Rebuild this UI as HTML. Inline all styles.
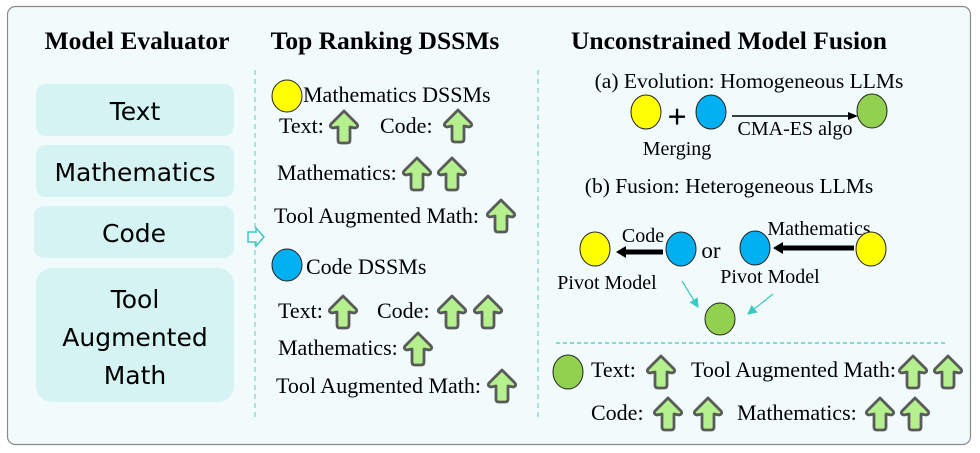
<!DOCTYPE html>
<html><head><meta charset="utf-8"><style>
html,body{margin:0;padding:0;background:#fff;}
svg{display:block;}
text{font-family:"Liberation Serif",serif;fill:#000;}
.s{font-family:"DejaVu Sans","Liberation Sans",sans-serif;}
</style></head><body>
<svg width="980" height="453" viewBox="0 0 980 453" xmlns="http://www.w3.org/2000/svg">
<defs>
<g id="up"><path d="M0,-15 L13,-2 Q15,1 11,2 L6,1 L6,14 Q6,17 3,17 L-3,17 Q-6,17 -6,14 L-6,1 L-11,2 Q-15,1 -13,-2 Z" fill="#b5f08f" stroke="#5a5a5a" stroke-width="2.8" stroke-linejoin="round"/></g>
<marker id="tl" markerWidth="8" markerHeight="8" refX="7" refY="4" orient="auto"><path d="M0,0 L8,4 L0,8 Z" fill="#3cc8c4"/></marker>
</defs>
<rect x="7.5" y="6.5" width="963" height="438" rx="8" fill="#f2fbfb" stroke="#8a8a8a" stroke-width="1.2"/>
<!-- titles -->
<text x="137" y="49" font-size="25.5" font-weight="bold" text-anchor="middle">Model Evaluator</text>
<text x="385" y="49" font-size="25.5" font-weight="bold" text-anchor="middle">Top Ranking DSSMs</text>
<text x="729" y="49" font-size="25.5" font-weight="bold" text-anchor="middle">Unconstrained Model Fusion</text>
<!-- left boxes -->
<g fill="#d5f3f2">
<rect x="36" y="84" width="198" height="52" rx="10"/>
<rect x="36" y="145" width="198" height="52" rx="10"/>
<rect x="34" y="206" width="200" height="52" rx="10"/>
<rect x="36" y="268" width="198" height="134" rx="16"/>
</g>
<g font-size="25" text-anchor="middle">
<text class="s" x="135" y="120">Text</text>
<text class="s" x="135" y="181">Mathematics</text>
<text class="s" x="134" y="242">Code</text>
<text class="s" x="135" y="308">Tool</text>
<text class="s" x="135" y="346">Augmented</text>
<text class="s" x="135" y="384">Math</text>
</g>
<!-- dashed lines -->
<line x1="255" y1="70" x2="255" y2="420" stroke="#8fd9d6" stroke-width="1.5" stroke-dasharray="5,4"/>
<line x1="538" y1="70" x2="538" y2="420" stroke="#8fd9d6" stroke-width="1.5" stroke-dasharray="5,4"/>
<line x1="556" y1="343" x2="946" y2="343" stroke="#3cc8c4" stroke-width="1.2" stroke-dasharray="4,3"/>
<path d="M248,232 L256,232 L256,228 L264,237 L256,246 L256,242 L248,242 Z" fill="#f2fbfb" stroke="#3cc8c4" stroke-width="1.5"/>
<!-- middle column -->
<ellipse cx="287" cy="96" rx="15" ry="16" fill="#ffff00" stroke="#222" stroke-width="1"/>
<text x="303" y="102" font-size="22">Mathematics DSSMs</text>
<text x="279" y="133" font-size="22">Text:</text><use href="#up" x="344" y="126"/>
<text x="380" y="133" font-size="22">Code:</text><use href="#up" x="458" y="125"/>
<text x="277" y="180" font-size="22">Mathematics:</text><use href="#up" x="417" y="173"/><use href="#up" x="452" y="173"/>
<text x="274" y="223" font-size="22">Tool Augmented Math:</text><use href="#up" x="501" y="215"/>
<ellipse cx="287" cy="265" rx="15" ry="16" fill="#00b0f0" stroke="#222" stroke-width="1"/>
<text x="306" y="274" font-size="22">Code DSSMs</text>
<text x="278" y="318" font-size="22">Text:</text><use href="#up" x="343" y="311"/>
<text x="377" y="318" font-size="22">Code:</text><use href="#up" x="452" y="311"/><use href="#up" x="488" y="311"/>
<text x="278" y="355" font-size="22">Mathematics:</text><use href="#up" x="418" y="348"/>
<text x="276" y="393" font-size="22">Tool Augmented Math:</text><use href="#up" x="502" y="385"/>
<!-- right (a) -->
<text x="749" y="88" font-size="21.5" text-anchor="middle">(a) Evolution: Homogeneous LLMs</text>
<ellipse cx="646" cy="112" rx="15" ry="17" fill="#ffff00" stroke="#222" stroke-width="1"/>
<text x="677" y="128" font-size="34" font-weight="bold" text-anchor="middle" font-family="Liberation Sans,sans-serif">+</text>
<ellipse cx="711" cy="112" rx="15" ry="17" fill="#00b0f0" stroke="#222" stroke-width="1"/>
<line x1="732" y1="116" x2="850" y2="116" stroke="#000" stroke-width="1.5"/>
<path d="M858,116 L848,112 L848,120 Z" fill="#000"/>
<ellipse cx="872" cy="111" rx="15" ry="17" fill="#92d050" stroke="#222" stroke-width="1"/>
<text x="677" y="155" font-size="20" text-anchor="middle">Merging</text>
<text x="795" y="135" font-size="20" text-anchor="middle">CMA-ES algo</text>
<!-- (b) -->
<text x="729" y="193" font-size="21.5" text-anchor="middle">(b) Fusion: Heterogeneous LLMs</text>
<ellipse cx="595" cy="249" rx="15" ry="17" fill="#ffff00" stroke="#222" stroke-width="1"/>
<line x1="624" y1="252" x2="663" y2="252" stroke="#000" stroke-width="5"/>
<path d="M616,252 L626,246 L626,258 Z" fill="#000"/>
<text x="643" y="242" font-size="20" text-anchor="middle">Code</text>
<ellipse cx="681" cy="249" rx="15" ry="17" fill="#00b0f0" stroke="#222" stroke-width="1"/>
<text x="711" y="258" font-size="23" text-anchor="middle">or</text>
<ellipse cx="755" cy="248" rx="15" ry="17" fill="#00b0f0" stroke="#222" stroke-width="1"/>
<line x1="780" y1="248" x2="854" y2="248" stroke="#000" stroke-width="5"/>
<path d="M773,248 L783,242 L783,254 Z" fill="#000"/>
<text x="819" y="235" font-size="20" text-anchor="middle">Mathematics</text>
<ellipse cx="871" cy="249" rx="15" ry="17" fill="#ffff00" stroke="#222" stroke-width="1"/>
<text x="607" y="289" font-size="20" text-anchor="middle">Pivot Model</text>
<text x="770" y="283" font-size="20" text-anchor="middle">Pivot Model</text>
<line x1="682" y1="281" x2="698" y2="307" stroke="#3cc8c4" stroke-width="1.2" marker-end="url(#tl)"/>
<line x1="773" y1="294" x2="748" y2="314" stroke="#3cc8c4" stroke-width="1.2" marker-end="url(#tl)"/>
<ellipse cx="720" cy="319" rx="15" ry="16" fill="#92d050" stroke="#222" stroke-width="1"/>
<!-- bottom -->
<ellipse cx="568" cy="372" rx="15" ry="17" fill="#92d050" stroke="#222" stroke-width="1"/>
<text x="591" y="377" font-size="22">Text:</text><use href="#up" x="661" y="371"/>
<text x="691" y="377" font-size="22">Tool Augmented Math:</text><use href="#up" x="913" y="371"/><use href="#up" x="948" y="371"/>
<text x="591" y="420" font-size="22">Code:</text><use href="#up" x="668" y="413"/><use href="#up" x="708" y="413"/>
<text x="737" y="420" font-size="22">Mathematics:</text><use href="#up" x="880" y="413"/><use href="#up" x="915" y="413"/>
</svg>
</body></html>
